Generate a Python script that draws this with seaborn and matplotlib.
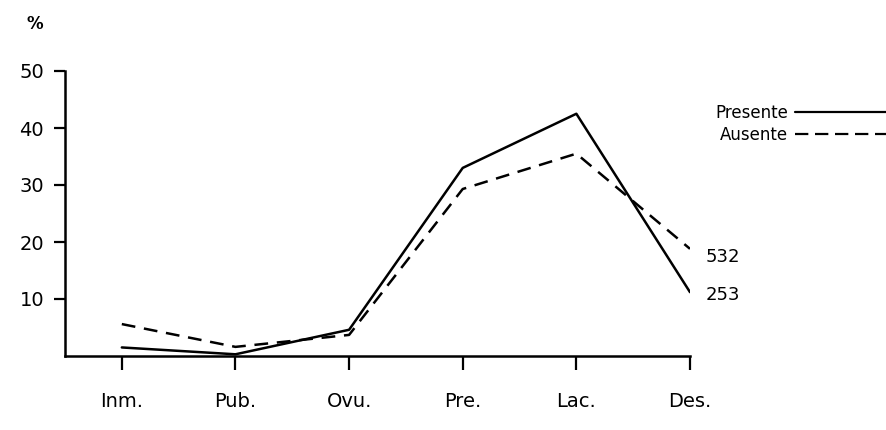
import matplotlib
matplotlib.use("Agg")
import matplotlib.pyplot as plt
import seaborn as sns
import pandas as pd
from matplotlib.lines import Line2D

categories = ["Inm.", "Pub.", "Ovu.", "Pre.", "Lac.", "Des."]
presente = [1.5, 0.3, 4.6, 33.0, 42.5, 11.2]
ausente = [5.6, 1.6, 3.7, 29.3, 35.5, 18.8]
series_names = ["Presente", "Ausente"]
end_labels = ["253", "532"]
y_ticks = [10, 20, 30, 40, 50]

sns.set_style("ticks")
plt.rcParams["font.family"] = ["DejaVu Sans"]
plt.rcParams["text.color"] = "black"
plt.rcParams["xtick.color"] = "black"
plt.rcParams["ytick.color"] = "black"
plt.rcParams["axes.edgecolor"] = "black"

rows = []
for i, c in enumerate(categories):
    rows.append({"x": i, "cat": c, "val": presente[i], "serie": series_names[0]})
    rows.append({"x": i, "cat": c, "val": ausente[i], "serie": series_names[1]})
df = pd.DataFrame(rows)

fig = plt.figure(figsize=(8.87, 4.30), dpi=100)
ax = fig.add_axes([65 / 887, 1 - 356 / 430, (690 - 65) / 887, (356 - 71) / 430])

sns.lineplot(data=df, x="x", y="val", style="serie", color="black",
             dashes={"Presente": "", "Ausente": (5.5, 3.5)},
             linewidth=1.8, ax=ax, legend=False)

ax.set_xlim(-0.5, 5.0)
ax.set_ylim(0, 50)
ax.set_xticks(range(len(categories)))
ax.set_xticklabels(categories, fontsize=14)
ax.set_yticks(y_ticks)
ax.set_yticklabels([str(t) for t in y_ticks], fontsize=14)
ax.tick_params(axis="y", direction="out", length=8, width=1.6, pad=7, colors="black")
ax.tick_params(axis="x", direction="out", length=10, width=1.6, pad=16, colors="black")
for s in ["top", "right"]:
    ax.spines[s].set_visible(False)
for s in ["left", "bottom"]:
    ax.spines[s].set_linewidth(1.8)
    ax.spines[s].set_color("black")
ax.set_xlabel("")
ax.set_ylabel("")

# end labels
ax.text(5.14, ausente[-1] - 1.4, end_labels[1], fontsize=13, va="center", ha="left")
ax.text(5.14, presente[-1] - 0.5, end_labels[0], fontsize=13, va="center", ha="left")

# % label
fig.text(27 / 887, 1 - 24 / 430, "%", fontsize=12, fontweight="bold", ha="left", va="center")

# legend (text then line)
handles = [Line2D([], [], color="black", linewidth=1.6),
           Line2D([], [], color="black", linewidth=1.6, dashes=(6, 3))]
leg = fig.legend(handles, series_names, loc="upper left",
                 bbox_to_anchor=(715 / 887, 1 - 104 / 430), frameon=False,
                 markerfirst=False, handlelength=6.0, handletextpad=0.4,
                 fontsize=12, labelspacing=0.25, borderaxespad=0, borderpad=0)

fig.savefig("out.png", dpi=100)
